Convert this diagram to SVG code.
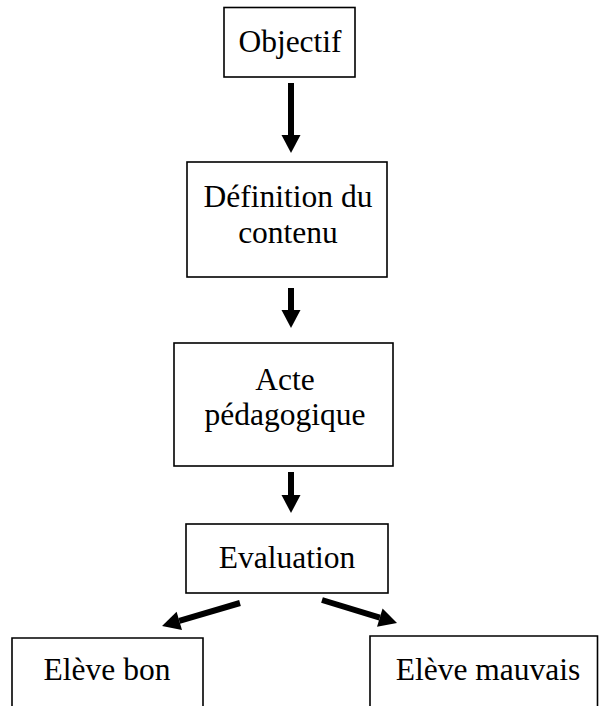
<svg xmlns="http://www.w3.org/2000/svg" width="599" height="706" viewBox="0 0 599 706">
<style>
.box{fill:#fff;stroke:#000;stroke-width:1.6}
.t{font-family:"Liberation Serif","Times New Roman",serif;font-size:31.5px;fill:#000;text-anchor:middle}
.arr{stroke:#000;stroke-width:6;fill:none;marker-end:url(#ah)}
</style>
<defs>
<marker id="ah" markerUnits="userSpaceOnUse" markerWidth="18" markerHeight="19" refX="0" refY="9.5" orient="auto" overflow="visible">
<path d="M0,0 L18,9.5 L0,19 Z" fill="#000"/>
</marker>
</defs>
<rect width="599" height="706" fill="#fff"/>
<g id="objectif"><rect class="box" x="224" y="7.5" width="131" height="69.5"/><text class="t" x="290" y="52">Objectif</text></g>
<g id="definition"><rect class="box" x="187" y="162" width="200" height="115"/><text class="t" x="288" y="207">Définition du</text><text class="t" x="288" y="243">contenu</text></g>
<g id="acte"><rect class="box" x="174" y="343" width="219" height="123"/><text class="t" x="285" y="390">Acte</text><text class="t" x="285" y="425">pédagogique</text></g>
<g id="evaluation"><rect class="box" x="186" y="524" width="202" height="69"/><text class="t" x="287" y="568">Evaluation</text></g>
<g id="eleve-bon"><path class="box" d="M12,710 V638 H203 V710" fill="#fff"/><text class="t" x="107" y="680">Elève bon</text></g>
<g id="eleve-mauvais"><path class="box" d="M370,710 V636 H597.5 V710" fill="#fff"/><text class="t" x="488" y="680">Elève mauvais</text></g>
<g id="connectors">
<line class="arr" x1="291" y1="83" x2="291" y2="135"/>
<line class="arr" x1="291" y1="288" x2="291" y2="310"/>
<line class="arr" x1="291" y1="472" x2="291" y2="495"/>
<line class="arr" x1="240" y1="603" x2="179.3" y2="620.9"/>
<line class="arr" x1="322" y1="600" x2="379.8" y2="617.7"/>
</g>
</svg>
